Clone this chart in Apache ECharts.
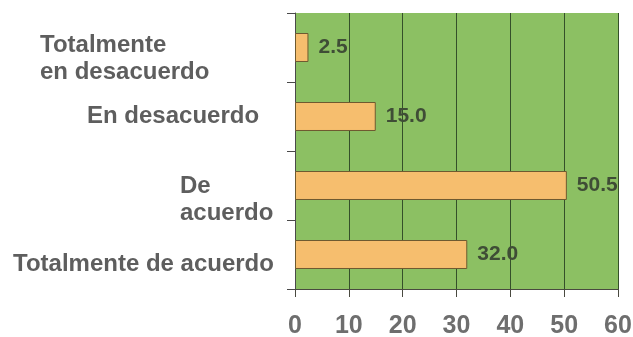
<!DOCTYPE html>
<html>
<head>
<meta charset="utf-8">
<script src="https://cdn.jsdelivr.net/npm/echarts@6/dist/echarts.min.js"></script>
<style>
  html, body { margin: 0; padding: 0; background: #ffffff; }
  #chart { width: 633px; height: 337px; }
</style>
</head>
<body>
<div id="chart"></div>
<script>
// Response categories, top to bottom
var categories = ['Totalmente\nen desacuerdo', 'En desacuerdo', 'De\nacuerdo', 'Totalmente de acuerdo'];
// Percentage of respondents per category
var values = [2.5, 15.0, 50.5, 32.0];
// Value axis ticks
var xTicks = [0, 10, 20, 30, 40, 50, 60];

// Each category label sits in its own box: box width and spacer height above it
var labelBox = [[240, 22], [193, 0], [100, 28], [267, 20]];

var labelFont = {
  fontFamily: 'Liberation Sans, Arial, sans-serif',
  fontWeight: 'bold',
  fontSize: 24,
  lineHeight: 27,
  color: '#5e5e5e',
  align: 'left'
};

var rich = {};
labelBox.forEach(function (b, i) {
  rich['l' + i] = Object.assign({ width: b[0] }, labelFont);
  rich['s' + i] = { width: b[0], height: b[1], lineHeight: b[1], fontSize: 1, align: 'left' };
});

var chart = echarts.init(document.getElementById('chart'));

chart.setOption({
  backgroundColor: '#ffffff',
  animation: false,
  grid: { left: 295, right: 15, top: 13, bottom: 48, show: true,
          containLabel: false, outerBoundsMode: 'none',
          backgroundColor: '#8cc063', borderWidth: 0 },
  xAxis: {
    type: 'value',
    min: xTicks[0],
    max: xTicks[xTicks.length - 1],
    interval: 10,
    axisLine: { show: true, lineStyle: { color: '#4a4a40', width: 1 } },
    axisTick: { show: true, length: 8, lineStyle: { color: '#4a4a40' } },
    splitLine: { show: true, lineStyle: { color: '#35502a', width: 1 } },
    axisLabel: {
      margin: 25,
      color: '#6e6e6e',
      fontFamily: 'Liberation Sans, Arial, sans-serif',
      fontWeight: 'bold',
      fontSize: 25
    }
  },
  yAxis: {
    type: 'category',
    inverse: true,
    data: categories,
    axisLine: { show: true, lineStyle: { color: '#4a4a4a', width: 1 } },
    axisTick: { show: true, length: 8, lineStyle: { color: '#4a4a4a' } },
    splitLine: { show: false },
    axisLabel: {
      margin: 15,
      formatter: function (value, index) {
        var lines = value.split('\n').map(function (line) {
          return '{l' + index + '|' + line + '}';
        });
        if (labelBox[index][1] > 0) {
          lines.unshift('{s' + index + '| }');
        }
        return lines.join('\n');
      },
      rich: rich
    }
  },
  series: [{
    type: 'bar',
    data: values,
    barCategoryGap: '58%',
    itemStyle: { color: '#f6be6e', borderColor: '#6e5a30', borderWidth: 1 },
    label: {
      show: true,
      position: 'right',
      distance: 10,
      color: '#3f4d36',
      fontFamily: 'Liberation Sans, Arial, sans-serif',
      fontWeight: 'bold',
      fontSize: 21,
      formatter: function (p) { return p.value.toFixed(1); }
    }
  }]
});
</script>
</body>
</html>
